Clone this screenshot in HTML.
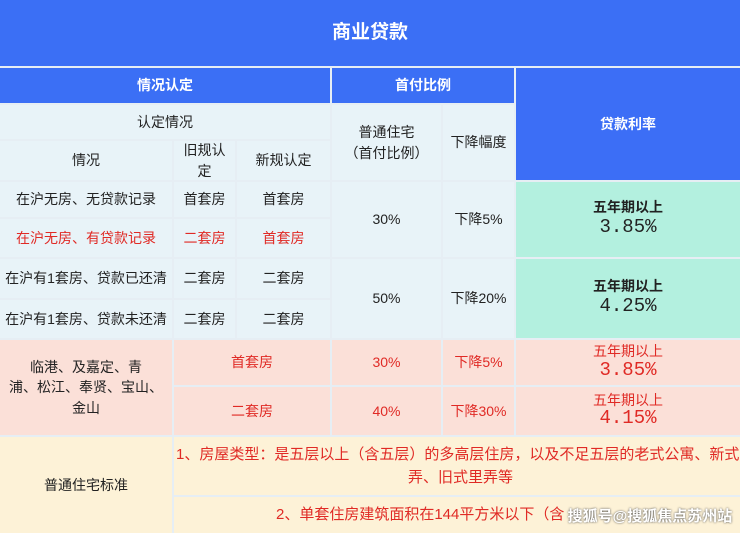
<!DOCTYPE html>
<html><head><meta charset="utf-8"><style>
body{margin:0;width:740px;height:533px;overflow:hidden;background:#e6eef4;font-family:"Liberation Sans","Noto Sans CJK SC",sans-serif;position:relative}
.c{position:absolute;display:flex;align-items:center;justify-content:center;text-align:center;font-size:14px;color:#222;box-sizing:border-box;line-height:1.45}
.b{background:#3b6ff5;color:#fff;font-weight:bold}
.l{background:#e8f3f8}
.t{background:#b3f0df}
.p{background:#fbe0d8;color:#e02a25}
.y{background:#fdf2d7;color:#e02a25}
.r{color:#e02a25}
.m{font-family:"Liberation Mono","Noto Sans CJK SC",monospace;font-size:19px;display:block}
</style></head><body>
<div class="c b" style="left:0;top:0;width:740px;height:66px;font-size:19px">商业贷款</div>
<div class="c b" style="left:0;top:68px;width:330px;height:35px">情况认定</div>
<div class="c b" style="left:332px;top:68px;width:182px;height:35px">首付比例</div>
<div class="c b" style="left:516px;top:68px;width:224px;height:112px;background:#3c6ef6">贷款利率</div>
<div class="c l" style="left:0;top:105px;width:330px;height:34px">认定情况</div>
<div class="c l" style="left:0;top:141px;width:172px;height:39px">情况</div>
<div class="c l" style="left:174px;top:141px;width:61px;height:39px"><div>旧规认<br>定</div></div>
<div class="c l" style="left:237px;top:141px;width:93px;height:39px">新规认定</div>
<div class="c l" style="left:332px;top:105px;width:109px;height:75px"><div>普通住宅<br>（首付比例）</div></div>
<div class="c l" style="left:443px;top:105px;width:71px;height:75px">下降幅度</div>

<div class="c l" style="left:0;top:182px;width:172px;height:35px">在沪无房、无贷款记录</div>
<div class="c l" style="left:174px;top:182px;width:61px;height:35px">首套房</div>
<div class="c l" style="left:237px;top:182px;width:93px;height:35px">首套房</div>
<div class="c l r" style="left:0;top:219px;width:172px;height:38px">在沪无房、有贷款记录</div>
<div class="c l r" style="left:174px;top:219px;width:61px;height:38px">二套房</div>
<div class="c l r" style="left:237px;top:219px;width:93px;height:38px">首套房</div>
<div class="c l" style="left:332px;top:182px;width:109px;height:75px">30%</div>
<div class="c l" style="left:443px;top:182px;width:71px;height:75px">下降5%</div>
<div class="c t" style="left:516px;top:182px;width:224px;height:75px;font-weight:bold;line-height:1.25"><div>五年期以上<span class="m" style="font-weight:normal">3.85%</span></div></div>

<div class="c l" style="left:0;top:259px;width:172px;height:39px">在沪有1套房、贷款已还清</div>
<div class="c l" style="left:174px;top:259px;width:61px;height:39px">二套房</div>
<div class="c l" style="left:237px;top:259px;width:93px;height:39px">二套房</div>
<div class="c l" style="left:0;top:300px;width:172px;height:38px">在沪有1套房、贷款未还清</div>
<div class="c l" style="left:174px;top:300px;width:61px;height:38px">二套房</div>
<div class="c l" style="left:237px;top:300px;width:93px;height:38px">二套房</div>
<div class="c l" style="left:332px;top:259px;width:109px;height:79px">50%</div>
<div class="c l" style="left:443px;top:259px;width:71px;height:79px">下降20%</div>
<div class="c t" style="left:516px;top:259px;width:224px;height:79px;font-weight:bold;line-height:1.25"><div>五年期以上<span class="m" style="font-weight:normal">4.25%</span></div></div>

<div class="c p" style="left:0;top:340px;width:172px;height:95px;color:#222"><div>临港、及嘉定、青<br>浦、松江、奉贤、宝山、<br>金山</div></div>
<div class="c p" style="left:174px;top:340px;width:156px;height:45px">首套房</div>
<div class="c p" style="left:332px;top:340px;width:109px;height:45px">30%</div>
<div class="c p" style="left:443px;top:340px;width:71px;height:45px">下降5%</div>
<div class="c p" style="left:516px;top:340px;width:224px;height:45px;line-height:1.1"><div>五年期以上<span class="m">3.85%</span></div></div>
<div class="c p" style="left:174px;top:387px;width:156px;height:48px">二套房</div>
<div class="c p" style="left:332px;top:387px;width:109px;height:48px">40%</div>
<div class="c p" style="left:443px;top:387px;width:71px;height:48px">下降30%</div>
<div class="c p" style="left:516px;top:387px;width:224px;height:48px;line-height:1.1"><div>五年期以上<span class="m">4.15%</span></div></div>

<div class="c y" style="left:0;top:437px;width:172px;height:96px;color:#222">普通住宅标准</div>
<div class="c y" style="left:174px;top:437px;width:566px;height:58px;white-space:nowrap;overflow:hidden;display:block;padding-top:6px;line-height:1.55;font-size:15px"><div style="text-align:left;padding-left:2px">1、房屋类型：是五层以上（含五层）的多高层住房，以及不足五层的老式公寓、新式里</div><div style="text-align:left;padding-left:234px">弄、旧式里弄等</div></div>
<div class="c y" style="left:174px;top:497px;width:566px;height:36px;justify-content:flex-start;padding-left:102px;font-size:15px">2、单套住房建筑面积在144平方米以下（含</div>
<div class="c" style="left:560px;top:503px;width:180px;height:28px;color:#fff;font-weight:bold;font-size:15px;text-shadow:0 0 2px #444">搜狐号@搜狐焦点苏州站</div>
</body></html>
